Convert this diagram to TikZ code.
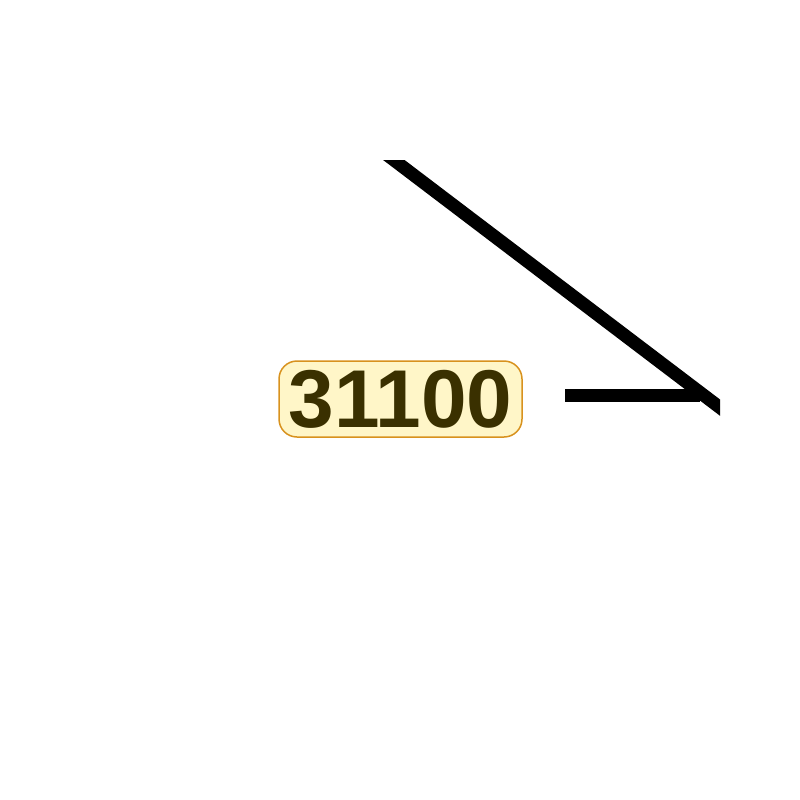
\documentclass[tikz,border=0pt]{standalone}
\usepackage{fontspec}
\setmainfont{Liberation Sans}
\definecolor{lblfill}{HTML}{FFF6C8}
\definecolor{lbldraw}{HTML}{D8921E}
\definecolor{lbltext}{HTML}{3A3000}
\tikzset{
  lbl/.style={draw=lbldraw, line width=1.5pt, fill=lblfill, rounded corners=18pt,
    text=lbltext, font=\fontsize{82}{82}\selectfont\bfseries,
    minimum width=243pt, minimum height=76pt, inner sep=0pt},
  leader/.style={line width=13pt, black}
}
\begin{document}
\begin{tikzpicture}[x=1pt,y=-1pt]
\useasboundingbox (0,0) rectangle (800,800);
\node[lbl] (tag) at (400.5,399) {31100};
\coordinate (lstart) at (565,395);
\coordinate (joint) at (700,395);
\coordinate (dtop) at (380,149.5);
\coordinate (dend) at (735,419);
\begin{scope}
\clip (0,160) rectangle (720,800);
\draw[leader] (dtop) -- (dend);
\end{scope}
\draw[leader] (lstart) -- (joint);
\end{tikzpicture}
\end{document}
